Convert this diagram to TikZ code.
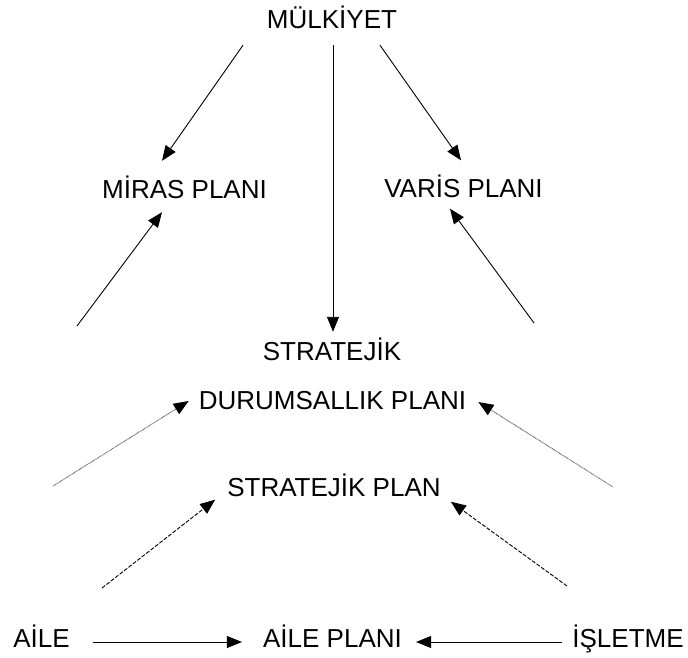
\documentclass[tikz,border=0pt]{standalone}
\usepackage{fontspec}
\setmainfont{Liberation Sans}
\usetikzlibrary{arrows.meta}

\begin{document}
\begin{tikzpicture}[x=1pt, y=-1pt,
		lbl/.style={inner sep=0pt, text height=19pt, text depth=0pt, font=\fontsize{26}{30}\selectfont},
		arr/.style={line width=0.9pt, -{Triangle[length=15pt, width=12pt, color=black]}},
		dotline/.style={arr, color=black!70, dash pattern=on 0.7pt off 0.7pt},
		dashline/.style={arr, dash pattern=on 4pt off 1.6pt}]
		%%%%% START %%%%%
		
		\useasboundingbox (0, 0) rectangle (688, 657);
		
		\node[lbl] (mulk) at (332, 18.5) {MÜLKİYET};
		\node[lbl] (miras) at (184.5, 188.5) {MİRAS PLANI};
		\node[lbl] (varis) at (463.5, 188) {VARİS PLANI};
		\node[lbl] (strj) at (332, 350.5) {STRATEJİK};
		\node[lbl] (durum) at (332.5, 399.5) {DURUMSALLIK PLANI};
		\node[lbl] (splan) at (334, 487) {STRATEJİK PLAN};
		\node[lbl] (aile) at (41.5, 638) {AİLE};
		\node[lbl] (aplan) at (332.5, 638) {AİLE PLANI};
		\node[lbl] (islet) at (628, 638) {İŞLETME};
		
		\coordinate (mirasfoot) at (77, 326);
		\coordinate (varisfoot) at (534, 323);
		\coordinate (durumleft) at (53, 486);
		\coordinate (durumright) at (613, 487);
		\coordinate (splanleft) at (102, 588);
		\coordinate (splanright) at (567, 586);
		
		\draw[arr] ([xshift=-89pt, yshift=-17pt]mulk.south) -- ([xshift=-22.5pt, yshift=18pt]miras.north);
		\draw[arr] ([xshift=1pt, yshift=-17pt]mulk.south) -- ([xshift=1pt, yshift=9pt]strj.north);
		\draw[arr] ([xshift=48pt, yshift=-17pt]mulk.south) -- ([xshift=-2.5pt, yshift=18pt]varis.north);
		
		\draw[arr] (mirasfoot) -- ([xshift=-22.5pt, yshift=-14pt]miras.south);
		\draw[arr] (varisfoot) -- ([xshift=-13.5pt, yshift=-11pt]varis.south);
		
		\draw[dotline] (durumleft) -- ([xshift=-10pt, yshift=-1.5pt]durum.west);
		\draw[dotline] (durumright) -- ([xshift=12pt, yshift=-2.5pt]durum.east);
		
		\draw[dashline] (splanleft) -- ([xshift=-12pt, yshift=-3pt]splan.south west);
		\draw[dashline] (splanright) -- ([xshift=10pt, yshift=-5pt]splan.south east);
		
		\draw[arr] ([xshift=23pt, yshift=-4pt]aile.east) -- ([xshift=-21pt, yshift=-4pt]aplan.west);
		\draw[arr] ([xshift=-10pt, yshift=-4pt]islet.west) -- ([xshift=14pt, yshift=-4pt]aplan.east);
		
		%%%%% END %%%%%
	\end{tikzpicture}
\end{document}
